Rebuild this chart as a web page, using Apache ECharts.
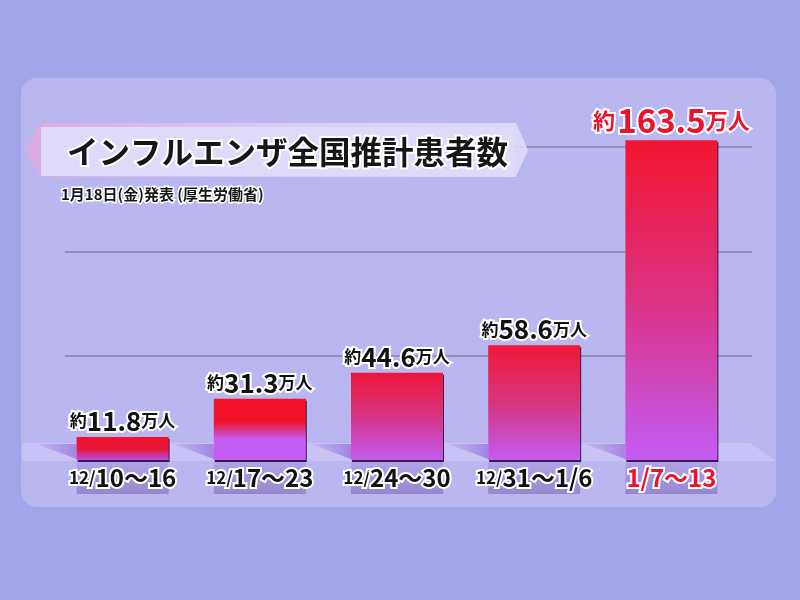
<!DOCTYPE html>
<html>
<head>
<meta charset="utf-8">
<script src="https://cdn.jsdelivr.net/npm/echarts@6/dist/echarts.min.js"></script>
<style>html,body{margin:0;padding:0;background:#a3a5ea;}#c{width:800px;height:600px;}</style>
</head>
<body>
<div id="c"></div>
<script>
const categories = ['12/10〜16', '12/17〜23', '12/24〜30', '12/31〜1/6', '1/7〜13'];
const patients = [11.8, 31.3, 44.6, 58.6, 163.5];
const titleText = 'インフルエンザ全国推計患者数';
const subtitleText = '1月18日(金)発表 (厚生労働省)';
const yMax = 160;
const yInterval = 160 / 3;

const FONT = '"Noto Sans CJK JP", "Noto Sans", sans-serif';
const barGradients = [
  [[0, '#f5102c'], [0.55, '#e5183c'], [1, '#b94ee6']],
  [[0, '#f3112a'], [0.38, '#f0122c'], [0.66, '#c45cf2'], [1, '#c25ef4']],
  [[0, '#ee163a'], [0.45, '#d9307a'], [1, '#c25cf2']],
  [[0, '#ee1838'], [0.5, '#d9347e'], [1, '#c25cf2']],
  [[0, '#f2152e'], [0.5, '#dc3284'], [1, '#c25cf4']]
];
function grad(stops) {
  return new echarts.graphic.LinearGradient(0, 0, 0, 1, stops.map(s => ({offset: s[0], color: s[1]})));
}

const chart = echarts.init(document.getElementById('c'), null, {renderer: 'canvas'});

function txt(size, color, bw) {
  return {fontSize: size, fontWeight: 'bold', color: color, fontFamily: FONT, textBorderColor: '#fff', textBorderWidth: bw || 4};
}

const seriesData = patients.map((v, i) => {
  const last = i === patients.length - 1;
  return {
    value: v,
    itemStyle: {color: grad(barGradients[i])},
    label: {
      formatter: '{a|約}' + (last ? '{g| }' : '') + '{b|' + v.toFixed(1) + '}{c|万人}',
      rich: last ? {
        a: txt(22, '#f0102a'),
        g: {fontSize: 8},
        b: txt(33, '#f0102a'),
        c: txt(22, '#f0102a')
      } : undefined
    }
  };
});

const baseRich = {a: txt(17, '#111'), b: txt(26, '#111'), c: txt(17, '#111')};

const catLabelBg = new echarts.graphic.LinearGradient(0, 0, 0, 1, [
  {offset: 0, color: '#b2a3e6'}, {offset: 1, color: '#9686cb'}
]);

const option = {
  backgroundColor: '#a3a5ea',
  animation: false,
  title: [
    {text: titleText, left: 62, top: 131,
     textStyle: txt(31.5, '#161616')},
    {text: subtitleText, left: 56, top: 182,
     textStyle: txt(15, '#161616', 3)}
  ],
  grid: [
    {left: 54, width: 686, top: 147, height: 313},
    {left: 65, width: 687, top: 147, height: 313}
  ],
  xAxis: [
    {type: 'category', gridIndex: 0, data: categories,
     axisLine: {show: false}, axisTick: {show: false}, splitLine: {show: false},
     axisLabel: {
       margin: 2, interval: 0,
       width: 92, height: 32, lineHeight: 32, align: 'center',
       backgroundColor: catLabelBg,
       formatter: function (v) {
         if (v.indexOf('12/') === 0) return '{s|12/}{l|' + v.slice(3) + '}';
         return '{r|' + v + '}';
       },
       rich: {s: txt(17, '#111'), l: txt(24, '#111'), r: txt(24, '#f0102a')}
     }},
    {type: 'category', gridIndex: 1, data: categories, show: false}
  ],
  yAxis: [
    {type: 'value', gridIndex: 0, min: 0, max: yMax, interval: yInterval, show: false},
    {type: 'value', gridIndex: 1, min: 0, max: yMax, interval: yInterval,
     axisLine: {show: false}, axisTick: {show: false}, axisLabel: {show: false},
     splitLine: {show: true, lineStyle: {color: ['rgba(0,0,0,0)', '#948eb8', '#948eb8', '#948eb8'], width: 2}}}
  ],
  series: [{
    type: 'bar', xAxisIndex: 0, yAxisIndex: 0, barWidth: 92, clip: false, z: 5,
    data: seriesData,
    itemStyle: {shadowColor: 'rgba(30,0,50,0.85)', shadowOffsetY: 2, shadowOffsetX: 1, shadowBlur: 0},
    label: {show: true, position: 'top', distance: 3, rich: baseRich}
  }],
  graphic: []
};
chart.setOption(option);

// decorations: panel, floor, banner, bar shadows
const gfx = [
  {type: 'rect', z: -10, silent: true, shape: {x: 21, y: 78, width: 755, height: 429, r: 16}, style: {fill: '#bab6f0'}},
  {type: 'polygon', z: -5, silent: true, shape: {points: [[22, 443], [750, 443], [776, 461], [22, 461]]}, style: {fill: '#c9c2f5'}},
  {type: 'polygon', z: 1, silent: true, shape: {points: [[25, 150], [40, 123], [516, 123], [528, 150], [516, 177], [40, 177]]},
   style: {fill: new echarts.graphic.LinearGradient(0, 0, 1, 0, [
     {offset: 0, color: 'rgba(222,170,222,0.9)'}, {offset: 0.6, color: 'rgba(222,212,246,0.85)'}, {offset: 1, color: 'rgba(226,222,250,0.85)'}])}},
  {type: 'rect', z: 2, silent: true, shape: {x: 41, y: 127, width: 474, height: 49}, style: {fill: '#dedaf8'}}
];
categories.forEach((c, i) => {
  const px = chart.convertToPixel({xAxisIndex: 0}, i);
  const left = px - 46;
  gfx.push({type: 'polygon', z: -4, silent: true,
    shape: {points: [[left - 40, 444], [left, 444], [left, 459]]},
    style: {fill: new echarts.graphic.LinearGradient(0, 0, 1, 0, [
      {offset: 0, color: 'rgba(160,130,220,0.2)'}, {offset: 1, color: 'rgba(150,110,220,0.75)'}])}});
});
chart.setOption({graphic: gfx});
</script>
</body>
</html>
